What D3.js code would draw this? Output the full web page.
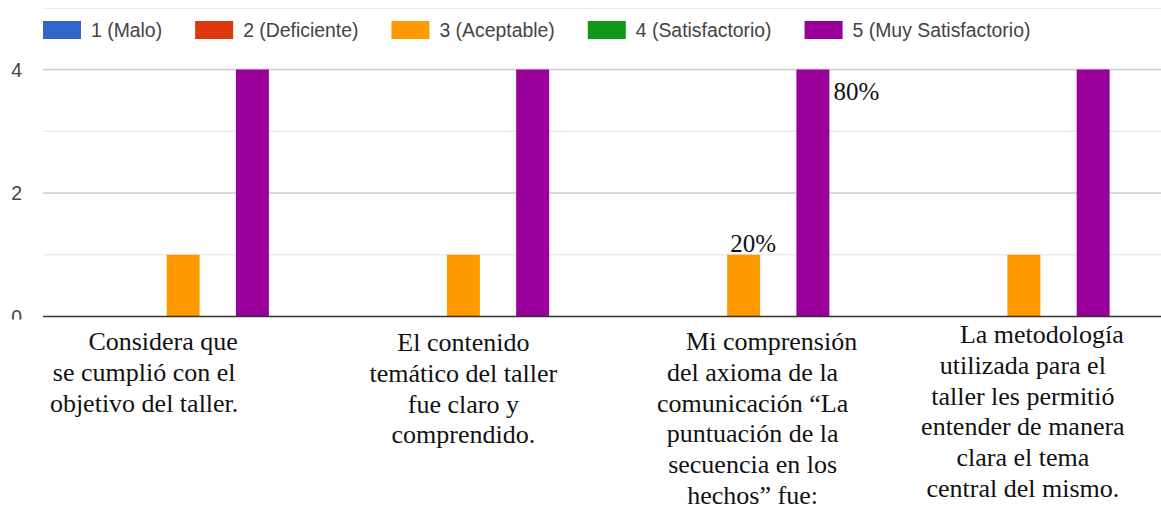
<!DOCTYPE html>
<html lang="es">
<head>
<meta charset="UTF-8">
<title>Evaluación del taller</title>
<script src="https://cdn.jsdelivr.net/npm/d3@7"></script>
<style>
    body { margin: 0; background: #fff; }
    svg { display: block; }
</style>
</head>
<body>
<div id="chart"></div>
<script>
// data
var seriesNames = ["1 (Malo)", "2 (Deficiente)", "3 (Aceptable)", "4 (Satisfactorio)", "5 (Muy Satisfactorio)"];
var seriesColors = ["#3366cc", "#dc3912", "#ff9900", "#109618", "#990099"];
var malo = [0, 0, 0, 0];
var deficiente = [0, 0, 0, 0];
var aceptable = [1, 1, 1, 1];
var satisfactorio = [0, 0, 0, 0];
var muySatisfactorio = [4, 4, 4, 4];
var categoryLines = [
    ["Considera que", "se cumplió con el", "objetivo del taller."],
    ["El contenido", "temático del taller", "fue claro y", "comprendido."],
    ["Mi comprensión", "del axioma de la", "comunicación \u201cLa", "puntuación de la", "secuencia en los", "hechos\u201d fue:"],
    ["La metodología", "utilizada para el", "taller les permitió", "entender de manera", "clara el tema", "central del mismo."]
];
var yTicks = [0, 2, 4];
var yMinorTicks = [1, 3];
// percent notes written over the third question
var noteCategory = [2, 2];
var noteSeries = [2, 4];
var noteText = ["20%", "80%"];

var allSeries = [malo, deficiente, aceptable, satisfactorio, muySatisfactorio];
var categories = categoryLines.map(function(l) { return l.join(" "); });

var width = 1161, height = 507;
var plotLeft = 43, plotRight = 1164, plotTop = 69.5, plotBottom = 316.5;

var svg = d3.select("#chart").append("svg")
    .attr("width", width)
    .attr("height", height)
    .style("font-family", "'Liberation Sans', Arial, sans-serif");

var x0 = d3.scaleBand()
    .domain(categories)
    .range([plotLeft, plotRight])
    .paddingInner(0.388)
    .paddingOuter(0.194);

var x1 = d3.scaleBand()
    .domain(seriesNames)
    .range([0, x0.bandwidth()])
    .paddingInner(0.048);

var y = d3.scaleLinear()
    .domain([0, 4])
    .range([plotBottom, plotTop]);

// thin frame line above legend
svg.append("line")
    .attr("x1", plotLeft).attr("x2", width)
    .attr("y1", 8.5).attr("y2", 8.5)
    .attr("stroke", "#ececec");

// legend
var legend = svg.append("g");
var lx = plotLeft;
seriesNames.forEach(function(name, i) {
    legend.append("rect")
        .attr("x", lx).attr("y", 21)
        .attr("width", 38).attr("height", 18)
        .attr("fill", seriesColors[i]);
    var t = legend.append("text")
        .attr("x", lx + 48).attr("y", 37)
        .attr("fill", "#444")
        .style("font-size", "19.4px")
        .text(name);
    lx += 48 + t.node().getComputedTextLength() + 33;
});

// gridlines
svg.append("g").selectAll("line")
    .data(yMinorTicks)
    .enter().append("line")
    .attr("x1", plotLeft).attr("x2", width)
    .attr("y1", function(d) { return y(d); })
    .attr("y2", function(d) { return y(d); })
    .attr("stroke", "#ebebeb")
    .attr("stroke-width", 1.5);

svg.append("g").selectAll("line")
    .data(yTicks.filter(function(d) { return d > 0; }))
    .enter().append("line")
    .attr("x1", plotLeft).attr("x2", width)
    .attr("y1", function(d) { return y(d); })
    .attr("y2", function(d) { return y(d); })
    .attr("stroke", "#cccccc")
    .attr("stroke-width", 1.5);

// y labels
svg.append("g").selectAll("text")
    .data(yTicks)
    .enter().append("text")
    .attr("x", 22)
    .attr("y", function(d) { return y(d) + 7; })
    .attr("text-anchor", "end")
    .attr("fill", "#444")
    .style("font-size", "19.4px")
    .text(function(d) { return d; });

// bars
var groups = svg.append("g").selectAll("g")
    .data(categories)
    .enter().append("g")
    .attr("transform", function(d) { return "translate(" + x0(d) + ",0)"; });

groups.selectAll("rect")
    .data(function(d, ci) {
        return seriesNames.map(function(s, si) { return {s: s, i: si, v: allSeries[si][ci]}; });
    })
    .enter().append("rect")
    .attr("x", function(d) { return x1(d.s); })
    .attr("width", x1.bandwidth())
    .attr("y", function(d) { return y(d.v); })
    .attr("height", function(d) { return y(0) - y(d.v); })
    .attr("fill", function(d) { return seriesColors[d.i]; });

// baseline
svg.append("line")
    .attr("x1", plotLeft).attr("x2", width)
    .attr("y1", y(0)).attr("y2", y(0))
    .attr("stroke", "#333")
    .attr("stroke-width", 1.5);

// pasted text box for the questions (hides lower half of the 0 label)
svg.append("rect")
    .attr("x", 0).attr("y", 319.5)
    .attr("width", width).attr("height", height - 319.5)
    .attr("fill", "#fff");

var labelShift = [-39, 0, 9, -1];
var labelTop = [350, 351, 350, 343];
var lineGap = 30.8;

categoryLines.forEach(function(lines, ci) {
    var cx = x0(categories[ci]) + x0.bandwidth() / 2 + labelShift[ci];
    var t = svg.append("text")
        .attr("text-anchor", "middle")
        .attr("fill", "#111")
        .style("font-family", "'Liberation Serif', 'Times New Roman', serif")
        .style("font-size", "26px");
    lines.forEach(function(line, li) {
        t.append("tspan")
            .attr("x", cx + (li === 0 && ci !== 1 ? 19 : 0))
            .attr("y", labelTop[ci] + li * lineGap)
            .text(line);
    });
});

// percent notes
noteText.forEach(function(txt, k) {
    var cat = categories[noteCategory[k]];
    var sname = seriesNames[noteSeries[k]];
    var v = allSeries[noteSeries[k]][noteCategory[k]];
    var bx = x0(cat) + x1(sname);
    var note = svg.append("text")
        .attr("fill", "#111")
        .style("font-family", "'Liberation Serif', 'Times New Roman', serif")
        .style("font-size", "25px")
        .text(txt);
    if (v >= 4) {
        note.attr("x", bx + x1.bandwidth() + 4).attr("y", y(v) + 30);
    } else {
        note.attr("x", bx + 3).attr("y", y(v) - 3);
    }
});
</script>
</body>
</html>
